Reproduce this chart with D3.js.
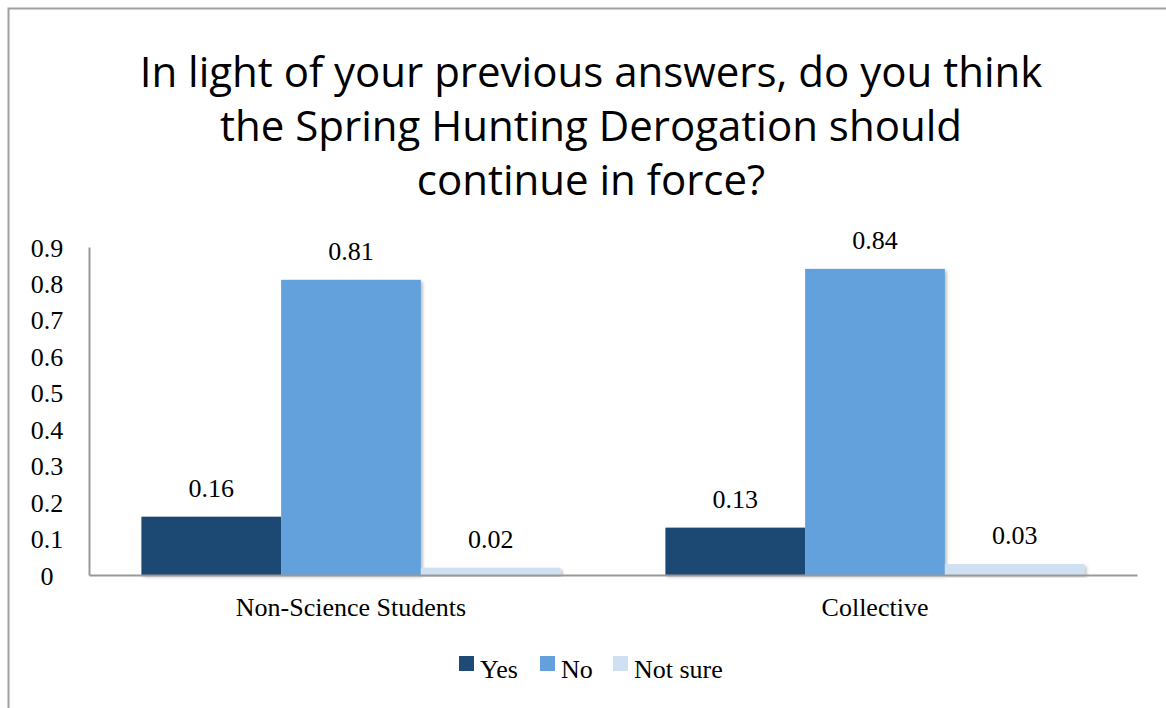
<!DOCTYPE html>
<html><head><meta charset="utf-8">
<script src="https://cdn.jsdelivr.net/npm/d3@7"></script>
<style>body{margin:0;background:#fff}svg{display:block}</style>
</head><body>
<svg id="c" width="1166" height="708"></svg>
<script>
const titleLines = ["In light of your previous answers, do you think","the Spring Hunting Derogation should","continue in force?"];
const categories = ["Non-Science Students","Collective"];
const seriesNames = ["Yes","No","Not sure"];
const yesValues = [0.16,0.13];
const noValues = [0.81,0.84];
const notSureValues = [0.02,0.03];
const yTicks = [0,0.1,0.2,0.3,0.4,0.5,0.6,0.7,0.8,0.9];
const colors = ["#1f4a73","#64a1dc","#cfe0f2"];

const svg = d3.select("#c");
const serif = "'Liberation Serif', 'DejaVu Serif', serif";
const sans = "'Open Sans', Lato, sans-serif";
const fs = 26;

svg.append("defs").append("filter").attr("id","sh").attr("x","-10%").attr("y","-10%").attr("width","130%").attr("height","130%")
  .html('<feDropShadow dx="2" dy="2" stdDeviation="1.5" flood-color="#000" flood-opacity="0.25"/>');

// outer border
svg.append("rect").attr("x",8.5).attr("y",8.5).attr("width",1200).attr("height",800)
  .attr("fill","#fff").attr("stroke","#a0a0a0").attr("stroke-width",2);

// title
const title = svg.append("g");
const titleY = [87,141,195];
titleLines.forEach((t,i)=>{
  title.append("text").attr("x",591).attr("y",titleY[i]).attr("text-anchor","middle")
    .attr("font-family",sans).attr("font-size",42).attr("fill","#000").text(t);
});

const x0 = 89, x1 = 1137, yBase = 575, yTop = 247;
const y = d3.scaleLinear().domain([0,0.9]).range([yBase,yTop]);
const xBand = d3.scaleBand().domain(categories).range([x0,x1]).paddingInner(0.2).paddingOuter(0.1);
const xSub = d3.scaleBand().domain(seriesNames).range([0,xBand.bandwidth()]);

const data = categories.map((c,i)=>({cat:c, vals:[yesValues[i],noValues[i],notSureValues[i]]}));

// bars
const groups = svg.selectAll("g.grp").data(data).enter().append("g").attr("class","grp")
  .attr("transform",d=>`translate(${xBand(d.cat)},0)`);
groups.selectAll("rect").data(d=>d.vals.map((v,j)=>({v,s:seriesNames[j],j}))).enter().append("rect")
  .attr("x",d=>xSub(d.s)).attr("width",xSub.bandwidth())
  .attr("y",d=>y(d.v)).attr("height",d=>yBase-y(d.v))
  .attr("fill",d=>colors[d.j]).attr("filter","url(#sh)");
groups.selectAll("text").data(d=>d.vals.map((v,j)=>({v,s:seriesNames[j],j}))).enter().append("text")
  .attr("x",d=>xSub(d.s)+xSub.bandwidth()/2).attr("y",d=>y(d.v)-20)
  .attr("text-anchor","middle").attr("font-family",serif).attr("font-size",fs).attr("fill","#000")
  .text(d=>d3.format(".2f")(d.v));

// axes
const yAxis = d3.axisLeft(y).tickValues(yTicks).tickSize(0).tickPadding(24)
  .tickFormat(d=>d===0?"0":d3.format(".1f")(d));
const ya = svg.append("g").attr("transform",`translate(${x0},0)`).call(yAxis);
ya.select(".domain").attr("stroke","#999").attr("stroke-width",2);
ya.selectAll("text").attr("font-family",serif).attr("font-size",fs).attr("fill","#000").attr("text-anchor","middle").attr("dx",-18).attr("dy","0.35em");

const xAxis = d3.axisBottom(xBand).tickSize(0).tickPadding(23);
const xa = svg.append("g").attr("transform",`translate(0,${yBase})`).call(xAxis);
xa.select(".domain").attr("stroke","#999").attr("stroke-width",2);
xa.selectAll("text").attr("font-family",serif).attr("font-size",fs).attr("fill","#000");

// legend
const legend = svg.append("g").attr("transform","translate(0,670)");
const legX = [459,540,613];
seriesNames.forEach((s,i)=>{
  legend.append("rect").attr("x",legX[i]).attr("y",-14).attr("width",15).attr("height",15).attr("fill",colors[i]);
  legend.append("text").attr("x",legX[i]+21).attr("y",8).attr("font-family",serif).attr("font-size",fs).attr("fill","#000").text(s);
});
</script>
</body></html>
